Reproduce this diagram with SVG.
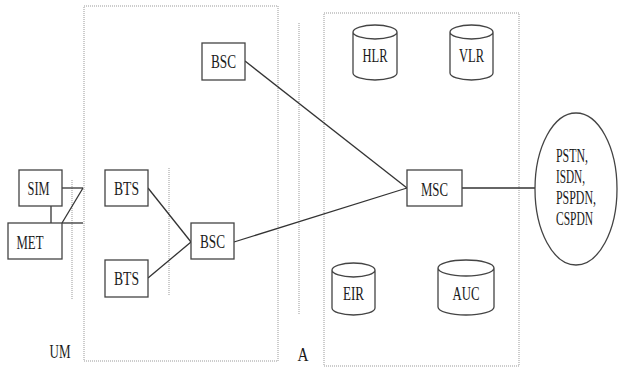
<svg xmlns="http://www.w3.org/2000/svg" width="620" height="378" viewBox="0 0 620 378">
<style>
.box{fill:#fff;stroke:#444;stroke-width:1.3}
.cyl{fill:#fff;stroke:#444;stroke-width:1.3}
.dot{fill:none;stroke:#999;stroke-width:1;stroke-dasharray:1 1}
.ln{fill:none;stroke:#333;stroke-width:1.3}
text{font-family:"Liberation Serif","Times New Roman",serif;font-size:19px;fill:#1a1a1a;text-anchor:middle}
.l{text-anchor:start}
</style>
<rect width="620" height="378" fill="#fff"/>
<g id="boundaries">
<rect class="dot" x="84" y="6" width="194" height="355"/>
<rect class="dot" x="324" y="13" width="195" height="353"/>
<line class="dot" x1="72" y1="180" x2="72" y2="300"/>
<line class="dot" x1="169" y1="168" x2="169" y2="295"/>
<line class="dot" x1="299" y1="23" x2="299" y2="315"/>
</g>
<g id="connectors">
<line class="ln" x1="62" y1="188" x2="83" y2="188"/>
<line class="ln" x1="83" y1="188" x2="62" y2="223"/>
<line class="ln" x1="62" y1="223" x2="83" y2="223"/>
<line class="ln" x1="51" y1="206" x2="51" y2="223"/>
<line class="ln" x1="148" y1="188" x2="191" y2="242"/>
<line class="ln" x1="148" y1="278" x2="191" y2="242"/>
<line class="ln" x1="234" y1="242" x2="407" y2="188"/>
<line class="ln" x1="245" y1="61" x2="407" y2="188"/>
<line class="ln" x1="462" y1="188" x2="535" y2="188"/>
</g>
<g id="sim"><rect class="box" x="19" y="170" width="43" height="36"/><text x="38.5" y="195" textLength="22" lengthAdjust="spacingAndGlyphs">SIM</text></g>
<g id="met"><rect class="box" x="8" y="223" width="54" height="36"/><text x="30" y="249" textLength="27" lengthAdjust="spacingAndGlyphs">MET</text></g>
<g id="bts1"><rect class="box" x="105" y="170" width="43" height="36"/><text x="126.5" y="195" textLength="25" lengthAdjust="spacingAndGlyphs">BTS</text></g>
<g id="bts2"><rect class="box" x="105" y="260" width="43" height="37"/><text x="126.5" y="285" textLength="25" lengthAdjust="spacingAndGlyphs">BTS</text></g>
<g id="bsc1"><rect class="box" x="202" y="43" width="43" height="37"/><text x="223.5" y="68" textLength="25" lengthAdjust="spacingAndGlyphs">BSC</text></g>
<g id="bsc2"><rect class="box" x="191" y="223" width="43" height="36"/><text x="212.5" y="248" textLength="25" lengthAdjust="spacingAndGlyphs">BSC</text></g>
<g id="msc"><rect class="box" x="407" y="170" width="55" height="36"/><text x="434.5" y="196" textLength="27" lengthAdjust="spacingAndGlyphs">MSC</text></g>
<g id="hlr"><path class="cyl" d="M353,32 A22,7 0 0 1 397,32 V73 A22,7 0 0 1 353,73 Z M353,32 A22,7 0 0 0 397,32"/><text x="375" y="62" textLength="25" lengthAdjust="spacingAndGlyphs">HLR</text></g>
<g id="vlr"><path class="cyl" d="M450,32 A21.5,7 0 0 1 493,32 V73 A21.5,7 0 0 1 450,73 Z M450,32 A21.5,7 0 0 0 493,32"/><text x="471.5" y="62" textLength="25" lengthAdjust="spacingAndGlyphs">VLR</text></g>
<g id="eir"><path class="cyl" d="M332,270 A21.5,7 0 0 1 375,270 V308 A21.5,7 0 0 1 332,308 Z M332,270 A21.5,7 0 0 0 375,270"/><text x="353.5" y="300" textLength="21" lengthAdjust="spacingAndGlyphs">EIR</text></g>
<g id="auc"><path class="cyl" d="M438,268 A28,8 0 0 1 494,268 V307 A28,8 0 0 1 438,307 Z M438,268 A28,8 0 0 0 494,268"/><text x="466" y="300" textLength="27" lengthAdjust="spacingAndGlyphs">AUC</text></g>
<g id="pstn"><ellipse class="cyl" cx="576" cy="189" rx="41" ry="76"/>
<text class="l" x="556" y="162" textLength="32" lengthAdjust="spacingAndGlyphs">PSTN,</text>
<text class="l" x="556" y="183" textLength="29" lengthAdjust="spacingAndGlyphs">ISDN,</text>
<text class="l" x="556" y="204" textLength="40" lengthAdjust="spacingAndGlyphs">PSPDN,</text>
<text class="l" x="556" y="225" textLength="37" lengthAdjust="spacingAndGlyphs">CSPDN</text>
</g>
<g id="labels">
<text x="60" y="358" textLength="21" lengthAdjust="spacingAndGlyphs">UM</text>
<text x="303" y="361" textLength="11" lengthAdjust="spacingAndGlyphs">A</text>
</g>
</svg>
